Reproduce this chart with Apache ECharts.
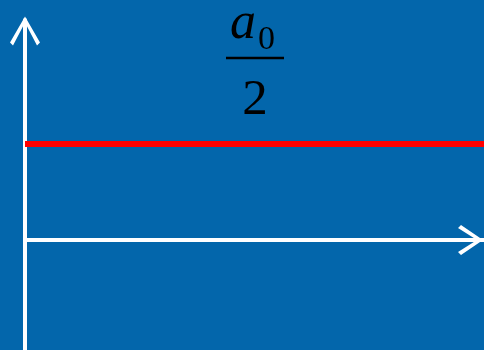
<!DOCTYPE html>
<html>
<head>
<meta charset="utf-8">
<script src="https://cdn.jsdelivr.net/npm/echarts@6/dist/echarts.min.js"></script>
<style>
html,body{margin:0;padding:0;background:#0366ab;}
#chart{width:484px;height:350px;}
</style>
</head>
<body>
<div id="chart"></div>
<script>
// Data: constant term a0/2 drawn as a horizontal line
var xValues = [0, 1];
var constantValues = [1, 1];
var numeratorBase = 'a';
var numeratorSub = '0';
var denominator = '2';

var chart = echarts.init(document.getElementById('chart'), null, {renderer: 'canvas'});
var seriesData = xValues.map(function (x, i) { return [x, constantValues[i]]; });

var arrowV = 'path://M15,0 L30,26 L27,29 L15,6 L3,29 L0,26 Z';
var arrowH = 'path://M15,0 L30,22 L27,25 L15,6 L3,25 L0,22 Z';

chart.setOption({
  backgroundColor: '#0366ab',
  animation: false,
  grid: {left: 25, right: 0, top: 20, bottom: 0, containLabel: false},
  xAxis: {
    type: 'value', min: 0, max: 1,
    axisLine: {show: true, onZero: true, lineStyle: {color: '#ffffff', width: 4},
      symbol: ['none', arrowH], symbolSize: [30, 25], symbolOffset: [0, -13.5]},
    axisTick: {show: false}, axisLabel: {show: false}, splitLine: {show: false}
  },
  yAxis: {
    type: 'value', min: -110 / 96, max: 220 / 96,
    axisLine: {show: true, onZero: false, lineStyle: {color: '#ffffff', width: 4},
      symbol: ['none', arrowV], symbolSize: [30, 29], symbolOffset: [0, -11]},
    axisTick: {show: false}, axisLabel: {show: false}, splitLine: {show: false}
  },
  series: [{
    type: 'line', data: seriesData, symbol: 'none', silent: true,
    lineStyle: {color: '#ff0000', width: 6}, z: 5
  }],
  graphic: [
    {type: 'text', x: 243, y: 24, style: {text: numeratorBase, font: 'italic 52px "Liberation Serif"', fill: '#000', textAlign: 'center', textVerticalAlign: 'middle', align: 'center', verticalAlign: 'middle'}},
    {type: 'text', x: 266.5, y: 40, style: {text: numeratorSub, font: '34px "Liberation Serif"', fill: '#000', textAlign: 'center', textVerticalAlign: 'middle', align: 'center', verticalAlign: 'middle'}},
    {type: 'line', shape: {x1: 226, y1: 58, x2: 284, y2: 58}, style: {stroke: '#000', lineWidth: 2.5}},
    {type: 'text', x: 255, y: 100.4, style: {text: denominator, font: '51px "Liberation Serif"', fill: '#000', textAlign: 'center', textVerticalAlign: 'middle', align: 'center', verticalAlign: 'middle'}}
  ]
});
</script>
</body>
</html>
